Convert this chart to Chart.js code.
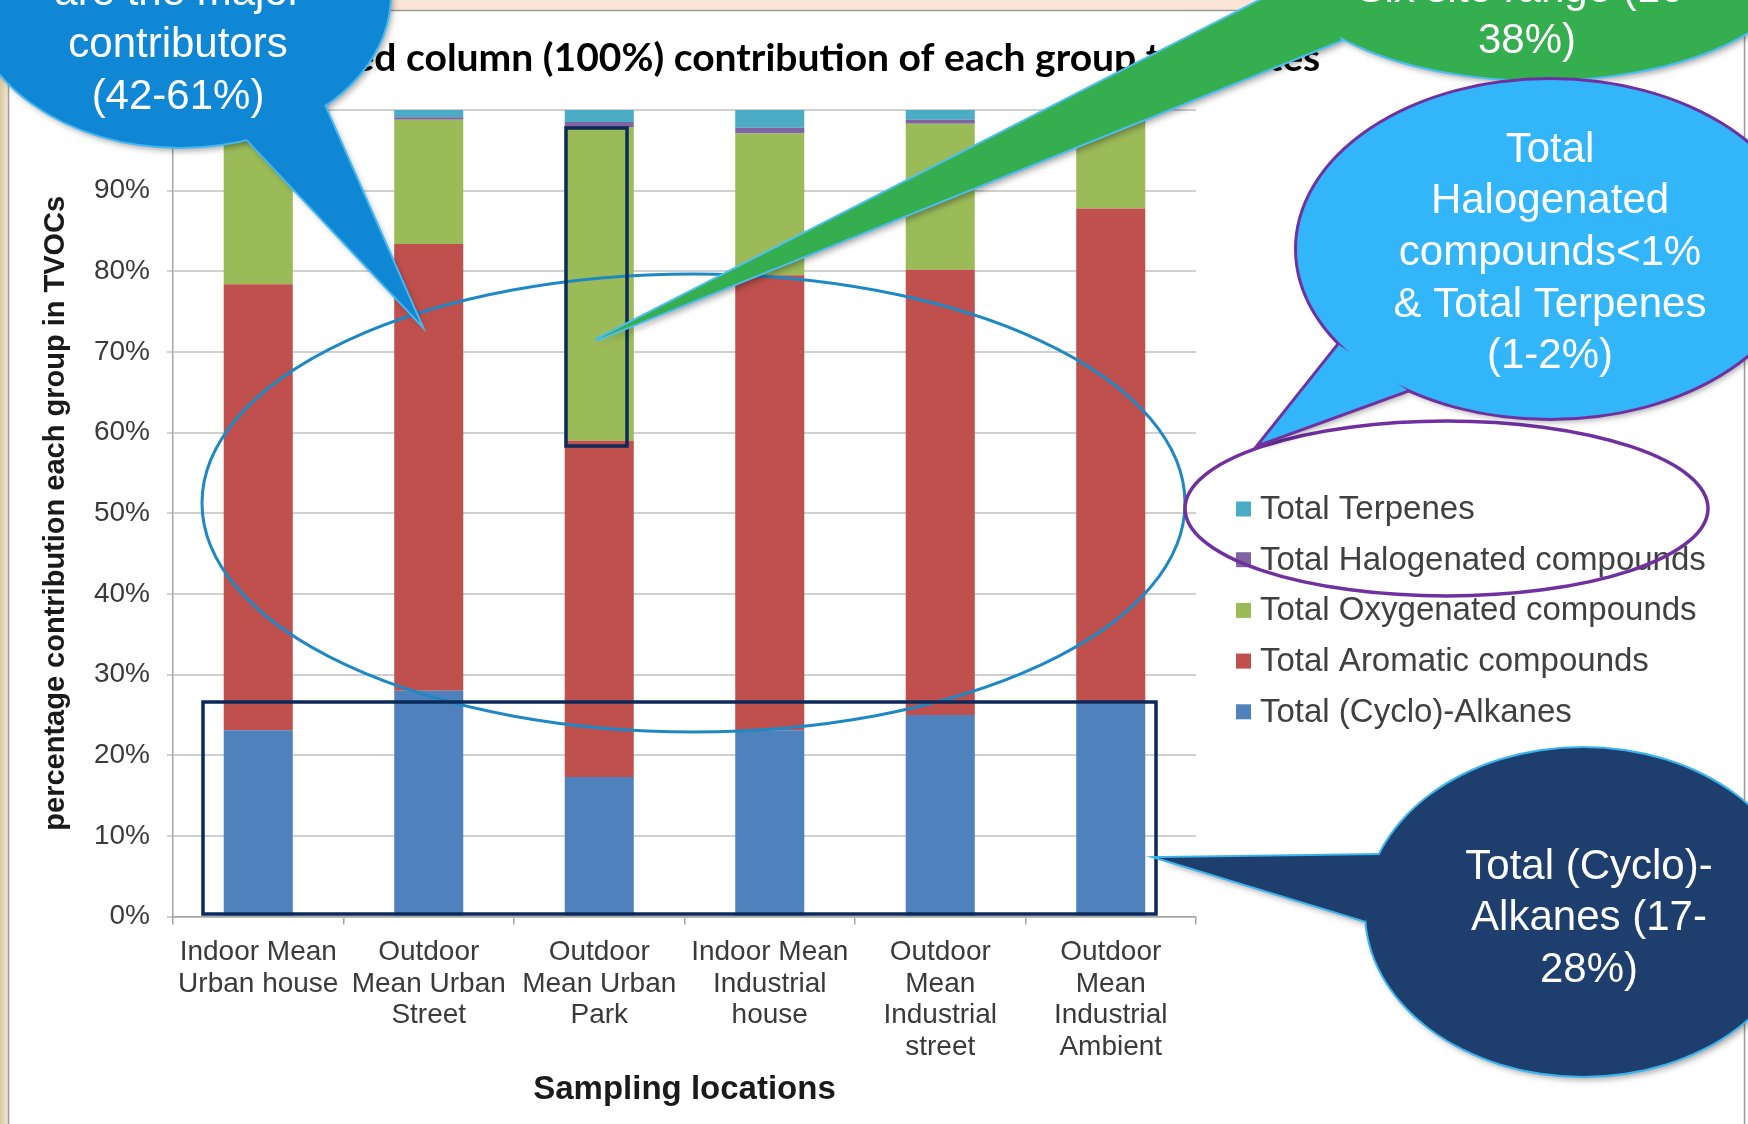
<!DOCTYPE html>
<html>
<head>
<meta charset="utf-8">
<script src="https://cdn.jsdelivr.net/npm/chart.js@4.4.1/dist/chart.umd.min.js"></script>
<style>
html,body{margin:0;padding:0;background:#fff;overflow:hidden}
canvas{display:block}
</style>
</head>
<body>
<canvas id="c" width="1748" height="1124"></canvas>
<script>
// ---------- data ----------
const categories = [
  ["Indoor Mean", "Urban house"],
  ["Outdoor", "Mean Urban", "Street"],
  ["Outdoor", "Mean Urban", "Park"],
  ["Indoor Mean", "Industrial", "house"],
  ["Outdoor", "Mean", "Industrial", "street"],
  ["Outdoor", "Mean", "Industrial", "Ambient"]
];
const seriesNames = [
  "Total (Cyclo)-Alkanes",
  "Total Aromatic compounds",
  "Total Oxygenated compounds",
  "Total Halogenated compounds",
  "Total Terpenes"
];
const alkanes     = [23.1, 28.0, 17.3, 23.1, 25.0, 26.4];
const aromatic    = [55.3, 55.4, 41.7, 56.4, 55.2, 61.4];
const oxygenated  = [19.9, 15.4, 38.9, 17.6, 18.1, 10.7];
const halogenated = [0.5, 0.3, 0.6, 0.7, 0.5, 0.4];
const terpenes    = [1.2, 0.9, 1.5, 2.2, 1.2, 1.1];
const yTickValues = [0, 10, 20, 30, 40, 50, 60, 70, 80, 90, 100];

const chartTitle = "Stacked column (100%) contribution of each group to all sites";
const yTitle = "percentage contribution each group in TVOCs";
const xTitle = "Sampling locations";

const calloutAromatic = ["Aromatic compounds", "are the major", "contributors", "(42-61%)"];
const calloutOxygenated = ["Oxygenated compounds", "Six site range (16-", "38%)"];
const calloutMinor = ["Total", "Halogenated", "compounds<1%", "& Total Terpenes", "(1-2%)"];
const calloutAlkanes = ["Total (Cyclo)-", "Alkanes (17-", "28%)"];

// ---------- styles ----------
const seriesColors = ["#4F81BD", "#C0504D", "#9BBB59", "#8064A2", "#4BACC6"];
const FONT = '"Liberation Sans", Arial, sans-serif';
Chart.defaults.font.family = FONT;

const seriesData = [alkanes, aromatic, oxygenated, halogenated, terpenes];

function ellipsePath(c, cx, cy, rx, ry) {
  c.beginPath();
  c.ellipse(cx, cy, rx, ry, 0, 0, Math.PI * 2);
}
function polyPath(c, pts) {
  c.beginPath();
  c.moveTo(pts[0][0], pts[0][1]);
  for (let i = 1; i < pts.length; i++) c.lineTo(pts[i][0], pts[i][1]);
  c.closePath();
}
function callout(c, e, tail, fill, stroke, lw) {
  c.save();
  c.shadowColor = 'rgba(0,0,0,0.35)';
  c.shadowBlur = 6; c.shadowOffsetX = 3; c.shadowOffsetY = 4;
  c.fillStyle = fill;
  ellipsePath(c, e[0], e[1], e[2], e[3]); c.fill();
  polyPath(c, tail); c.fill();
  c.restore();
  c.save();
  c.strokeStyle = stroke; c.lineWidth = lw * 2; c.lineJoin = 'miter';
  ellipsePath(c, e[0], e[1], e[2], e[3]); c.stroke();
  polyPath(c, tail); c.stroke();
  c.fillStyle = fill;
  ellipsePath(c, e[0], e[1], e[2], e[3]); c.fill();
  polyPath(c, tail); c.fill();
  c.restore();
}
function lines(c, arr, cx, y0, step) {
  c.save();
  c.fillStyle = '#FFFFFF';
  c.font = '42px ' + FONT;
  c.textAlign = 'center';
  c.textBaseline = 'middle';
  arr.forEach((t, i) => c.fillText(t, cx, y0 + i * step));
  c.restore();
}

const decor = {
  id: 'decor',
  beforeDraw(chart) {
    const c = chart.ctx;
    c.save();
    c.fillStyle = '#FFFFFF'; c.fillRect(0, 0, 1748, 1124);
    c.fillStyle = '#F9E4D6'; c.fillRect(0, 0, 1748, 10);
    const g = c.createLinearGradient(0, 0, 8, 0);
    g.addColorStop(0, '#D8C9A0'); g.addColorStop(1, '#EFE7D0');
    c.fillStyle = g; c.fillRect(0, 0, 8, 1124);
    c.strokeStyle = '#9C9C9C'; c.lineWidth = 1.5;
    c.strokeRect(8.5, 10.5, 1736, 1130);
    c.restore();
  },
  afterDraw(chart) {
    const c = chart.ctx;
    // chart title
    c.save();
    c.font = 'bold 100px Lato, ' + FONT;
    const w = c.measureText("ed column (100%) contribution of each group").width;
    const size = 100 * 783 / w;
    c.font = 'bold ' + size.toFixed(2) + 'px Lato, ' + FONT;
    const pre = c.measureText("Stack").width;
    c.fillStyle = '#000000';
    c.textBaseline = 'middle';
    c.textAlign = 'left';
    c.fillText(chartTitle, 354.5 - pre, 58);
    c.restore();

    // legend (reversed order)
    c.save();
    const ds = chart.data.datasets.slice().reverse();
    c.font = '33px ' + FONT;
    c.textBaseline = 'middle';
    ds.forEach((d, i) => {
      const y = 509 + i * 50.7;
      c.fillStyle = d.backgroundColor;
      c.fillRect(1236, y - 7.5, 15, 15);
      c.fillStyle = '#404040';
      c.fillText(d.label, 1260, y + 1);
    });
    c.restore();

    // annotation shapes
    c.save();
    c.lineWidth = 3;
    c.strokeStyle = '#1E88C4';
    ellipsePath(c, 693.5, 503, 491.5, 229); c.stroke();
    c.strokeStyle = '#0B2A59'; c.lineWidth = 3.5;
    c.strokeRect(203, 702, 953, 212);
    c.strokeRect(566, 128, 61, 318);
    c.strokeStyle = '#7030A0'; c.lineWidth = 3.5;
    ellipsePath(c, 1446.5, 508.5, 261.5, 87.5); c.stroke();
    c.restore();

    // callouts
    callout(c, [180, -5, 210, 152], [[229, 120], [420, 323], [313, 80]], '#0F87D4', '#44B8F2', 2);
    lines(c, calloutAromatic, 178, -59, 52);

    callout(c, [1540, -40, 260, 120], [[1320, -30], [596, 340], [1341, 40]], '#34AE4F', '#4DBDF5', 2);
    lines(c, calloutOxygenated, 1527, -61, 51);

    callout(c, [1550, 249, 253, 169], [[1339, 345], [1261, 443], [1407, 390]], '#33B6F9', '#7030A0', 3);
    lines(c, calloutMinor, 1550, 150, 51.7);

    callout(c, [1583, 912, 217, 164], [[1380, 855], [1159, 858], [1366, 921]], '#1E3F6D', '#3BB4F0', 2);
    lines(c, calloutAlkanes, 1589, 867, 51.5);
  }
};

const datasets = seriesNames.map((name, i) => ({
  label: name,
  data: seriesData[i],
  backgroundColor: seriesColors[i],
  borderWidth: 0,
  categoryPercentage: 1.0,
  barPercentage: 0.405
}));

new Chart(document.getElementById('c').getContext('2d'), {
  type: 'bar',
  data: { labels: categories, datasets: datasets },
  plugins: [decor],
  options: {
    responsive: false,
    animation: false,
    devicePixelRatio: 1,
    layout: { padding: { left: 0, top: 110, right: 552, bottom: 0 } },
    plugins: {
      legend: { display: false },
      title: { display: false },
      tooltip: { enabled: false }
    },
    scales: {
      x: {
        stacked: true,
        grid: { offset: true, drawOnChartArea: false, tickLength: 8, color: '#A6A6A6', lineWidth: 1.5 },
        border: { color: '#A6A6A6', width: 1.5 },
        ticks: {
          font: { size: 28, lineHeight: 1.13 },
          color: '#3A3A3A',
          padding: 12,
          maxRotation: 0,
          autoSkip: false
        },
        title: {
          display: true, text: xTitle, color: '#1A1A1A',
          font: { size: 33, weight: 'bold', lineHeight: 1.2 },
          padding: { top: 0, bottom: 14 }
        },
        afterFit(s) { s.height = 207.5; }
      },
      y: {
        stacked: true,
        min: 0, max: 100,
        afterBuildTicks(s) { s.ticks = yTickValues.map(v => ({ value: v })); },
        ticks: {
          callback: v => v + '%',
          font: { size: 28 },
          color: '#3A3A3A',
          padding: 17
        },
        grid: { color: '#D0D0D0', lineWidth: 2, tickLength: 6 },
        border: { color: '#A6A6A6', width: 1.5 },
        title: {
          display: true, text: yTitle, color: '#1A1A1A',
          font: { size: 29, weight: 'bold', lineHeight: 1.2 },
          padding: { top: 39, bottom: 0 }
        },
        afterFit(s) { s.width = 173; }
      }
    }
  }
});
</script>
</body>
</html>
